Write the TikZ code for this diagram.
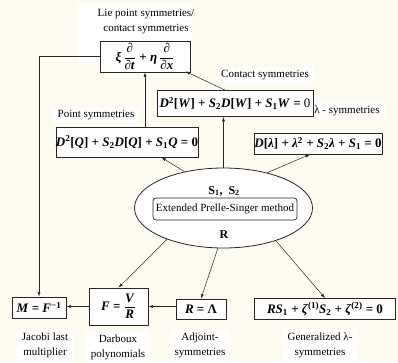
\documentclass[tikz,border=0pt]{standalone}
\usepackage{amsmath}
\usepackage[no-math]{fontspec}
\setmainfont{Liberation Serif}
\usetikzlibrary{shapes.geometric,arrows.meta}
\definecolor{bgcream}{RGB}{253,250,240}
\newcommand{\bi}[1]{\textbf{\textit{#1}}}
\newcommand{\bsup}[1]{\textsuperscript{\bfseries #1}}
\newcommand{\bsub}[1]{\textsubscript{\bfseries #1}}
\tikzset{
  box/.style={draw=black!85, line width=0.8pt, fill=white, inner sep=0pt, align=center},
  lbl/.style={fill=white, inner xsep=5pt, inner ysep=3pt, align=center, font=\fontsize{11}{15}\selectfont},
  arr/.style={-{Latex[length=4.5pt,width=3pt]}, line width=0.5pt, black!85},
  mth/.style={font=\fontsize{13}{15}\selectfont\bfseries}
}
\begin{document}
\begin{tikzpicture}[x=1pt,y=-1pt]
\fill[bgcream] (0,0) rectangle (398,362);
\useasboundingbox (0,0) rectangle (398,362);

% labels
\node[lbl, minimum width=114pt, minimum height=58pt] (liel) at (135,33) {};
\node[font=\fontsize{11}{15}\selectfont, align=center] (liet) at (146,22) {Lie point symmetries/\\contact symmetries};
\node[lbl] (contl) at (265,75) {Contact symmetries};
\node[lbl] (pointl) at (96,115) {Point symmetries};
\node[lbl] (laml) at (347,111) {λ - symmetries};

% top boxes
\node[box, mth, minimum width=90pt, minimum height=31pt] (xi) at (145,56.5)
  {\bi{ξ}$\,\dfrac{\text{\bi{∂}}}{\text{\bi{∂t}}}$ + \bi{η}$\,\dfrac{\text{\bi{∂}}}{\text{\bi{∂x}}}$};
\node[box, mth, minimum width=156pt, minimum height=26pt] (W) at (235,103.5)
  {\bi{D}\bsup{2}[\bi{W}] + \bi{S}\bsub{2}\bi{D}[\bi{W}] + \bi{S}\bsub{1}\bi{W} = \mdseries 0};
\node[box, mth, minimum width=136pt, minimum height=30pt] (Q) at (127,142)
  {\bi{D}\bsup{2}[\bi{Q}] + \bi{S}\bsub{2}\bi{D}[\bi{Q}] + \bi{S}\bsub{1}\bi{Q} = 0};
\node[box, mth, minimum width=128pt, minimum height=21pt] (lam) at (318,143.5)
  {\bi{D}[\bi{λ}] + \bi{λ}\bsup{2} + \bi{S}\bsub{2}\bi{λ} + \bi{S}\bsub{1} = 0};

% ellipse
\node[ellipse, draw=black!85, line width=0.8pt, fill=white, minimum width=178pt, minimum height=80pt, inner sep=0pt] (E) at (223.5,208) {};
\node[draw=black!85, line width=0.7pt, rounded corners=3pt, minimum width=144pt, minimum height=22pt, inner sep=0pt, font=\fontsize{11}{13}\selectfont] (ps) at (225,209) {Extended Prelle-Singer method};
\node[font=\fontsize{12}{14}\selectfont\bfseries] (s12) at (224,191) {S\textsubscript{1},\ \ S\textsubscript{2}};
\node[font=\fontsize{12}{14}\selectfont\bfseries] (rr) at (224,235) {R};

% bottom boxes
\node[box, mth, minimum width=54pt, minimum height=21pt] (M) at (39,307.5) {\bi{M} = \bi{F}\bsup{−1}};
\node[box, mth, minimum width=59pt, minimum height=37pt] (F) at (118.5,306.5) {\bi{F} = $\dfrac{\text{\bi{V}}}{\text{\bi{R}}}$};
\node[box, mth, minimum width=50pt, minimum height=20pt] (RL) at (201,309) {\bi{R} = Λ};
\node[box, mth, minimum width=141pt, minimum height=21pt] (RS) at (325,309) {\bi{RS}\bsub{1} + \bi{ζ}\bsup{(1)}\bi{S}\bsub{2} + \bi{ζ}\bsup{(2)} = 0};

% bottom labels
\node[lbl] (jl) at (45,345) {Jacobi last\\multiplier};
\node[lbl] (dl) at (118,347) {Darboux\\polynomials};
\node[lbl] (al) at (200,345) {Adjoint-\\symmetries};
\node[lbl] (gl) at (320,345) {Generalized λ-\\symmetries};

% connectors
\draw[arr] (xi.south |- Q.north) -- (xi.south);
\draw[arr] ([xshift=-10pt]W.north) -- ([xshift=-5pt,yshift=1pt]xi.south east);
\draw[arr] (E.north) -- (E.north |- W.south);
\draw[arr] (E.137) -- ([xshift=-37pt]Q.south east);
\draw[arr] (E.39) -- ([xshift=-8pt]lam.south);
\draw[arr] (E.209) -- (F.north);
\draw[arr] (E.262) -- (RL.north);
\draw[arr] (E.328) -- (RS.north);
\draw[arr] (RL.west |- F.east) -- (F.east);
\draw[arr] (F.west) -- (F.west -| M.east);
\draw[arr] (xi.west) -| (M.north);
\end{tikzpicture}
\end{document}
